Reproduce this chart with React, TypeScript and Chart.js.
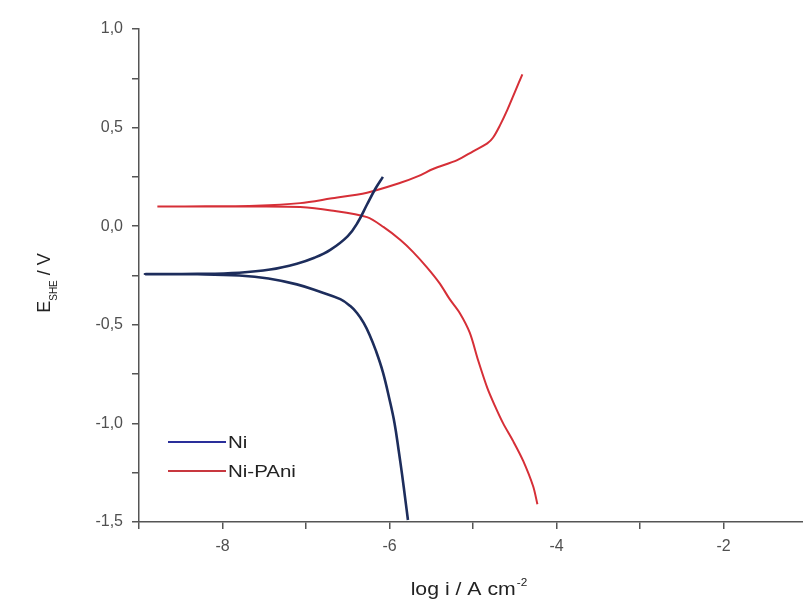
import React, { useEffect, useRef } from "react";
import { Chart, registerables } from "chart.js";

Chart.register(...registerables);

// Ni polarization curve (log i / A cm^-2, E / V vs SHE)
const NI_LOGI = [
  -5.78, -5.81, -5.85, -5.89, -5.94, -6.0, -6.08, -6.165, -6.24, -6.31, -6.39, -6.47, -6.59, -6.85, -7.11, -7.45, -7.8, -8.3, -8.93,
  -8.3, -7.8, -7.43, -7.11, -6.9, -6.71, -6.5, -6.38, -6.27, -6.17, -6.08,
];
const NI_E = [
  -1.49, -1.39, -1.26, -1.14, -1.0, -0.88, -0.74, -0.63, -0.55, -0.49, -0.44, -0.405, -0.37, -0.33, -0.295, -0.265, -0.25, -0.244, -0.243,
  -0.242, -0.236, -0.22, -0.19, -0.16, -0.12, -0.05, 0.02, 0.11, 0.19, 0.25,
];

// Ni-PAni polarization curve
const PANI_LOGI = [
  -4.23, -4.28, -4.4, -4.52, -4.64, -4.74, -4.83, -4.94, -5.04, -5.16, -5.28, -5.4, -5.55, -5.72, -5.87, -6.07, -6.27,
  -6.7, -7.07, -7.6, -8.2, -8.78,
  -8.2, -7.6, -7.07, -6.71, -6.27, -5.87, -5.65, -5.48, -5.19, -5.0, -4.83, -4.76, -4.68, -4.59, -4.5, -4.41,
];
const PANI_E = [
  -1.41, -1.32, -1.19, -1.09, -1.0, -0.91, -0.82, -0.68, -0.54, -0.44, -0.37, -0.29, -0.21, -0.13, -0.07, -0.005, 0.046,
  0.08, 0.097, 0.1, 0.1, 0.1,
  0.101, 0.104, 0.117, 0.14, 0.17, 0.22, 0.255, 0.29, 0.335, 0.38, 0.42, 0.45, 0.51, 0.59, 0.68, 0.77,
];

const SERIES_NAMES = ["Ni", "Ni-PAni"];
const X_TICKS = [-9, -8, -7, -6, -5, -4, -3, -2];
const Y_TICKS = [-1.5, -1.25, -1.0, -0.75, -0.5, -0.25, 0, 0.25, 0.5, 0.75, 1.0];
const X_TITLE = "log i / A cm";
const X_TITLE_SUP = "-2";
const Y_TITLE = ["E", "SHE", " / V"];

const NI_COLOR = "#1d2d5c";
const PANI_COLOR = "#d62f37";
const LEGEND_COLORS = ["#2a2f9a", "#c8383f"];
const FONT = "'Liberation Sans', Arial, sans-serif";

const textPlugin = {
  id: "customText",
  afterDraw(chart: any) {
    const ctx = chart.ctx as CanvasRenderingContext2D;
    const area = chart.chartArea;
    ctx.save();
    ctx.fillStyle = "#222";
    ctx.textBaseline = "alphabetic";
    ctx.textAlign = "left";

    // X title with superscript
    ctx.save();
    ctx.translate((area.left + area.right) / 2 - 2, 595);
    ctx.scale(1.18, 1);
    ctx.font = `18px ${FONT}`;
    const w1 = ctx.measureText(X_TITLE).width;
    ctx.font = `10px ${FONT}`;
    const w2 = ctx.measureText(X_TITLE_SUP).width;
    const start = -(w1 + w2 + 1) / 2;
    ctx.font = `18px ${FONT}`;
    ctx.fillText(X_TITLE, start, 0);
    ctx.font = `10px ${FONT}`;
    ctx.fillText(X_TITLE_SUP, start + w1 + 1, -9);
    ctx.restore();

    // Y title rotated with subscript
    ctx.save();
    ctx.translate(50, 283);
    ctx.rotate(-Math.PI / 2);
    ctx.font = `18px ${FONT}`;
    const a = ctx.measureText(Y_TITLE[0]).width;
    const c = ctx.measureText(Y_TITLE[2]).width;
    ctx.font = `10px ${FONT}`;
    const b = ctx.measureText(Y_TITLE[1]).width;
    const s = -(a + b + c) / 2;
    ctx.font = `18px ${FONT}`;
    ctx.fillText(Y_TITLE[0], s, 0);
    ctx.font = `10px ${FONT}`;
    ctx.fillText(Y_TITLE[1], s + a, 7);
    ctx.font = `18px ${FONT}`;
    ctx.fillText(Y_TITLE[2], s + a + b, 0);
    ctx.restore();

    // Legend
    const rows = [442, 471];
    SERIES_NAMES.forEach((name, i) => {
      const y = rows[i];
      ctx.strokeStyle = LEGEND_COLORS[i];
      ctx.lineWidth = 2;
      ctx.beginPath();
      ctx.moveTo(168, y);
      ctx.lineTo(226, y);
      ctx.stroke();
      ctx.save();
      ctx.translate(228, y + 6);
      ctx.scale(1.28, 1);
      ctx.font = `16px ${FONT}`;
      ctx.fillStyle = "#222";
      ctx.fillText(name, 0, 0);
      ctx.restore();
    });
    ctx.restore();
  },
};

export default function App() {
  const ref = useRef<HTMLCanvasElement | null>(null);

  useEffect(() => {
    if (!ref.current) return;
    const niData = NI_LOGI.map((x, i) => ({ x, y: NI_E[i] }));
    const paniData = PANI_LOGI.map((x, i) => ({ x, y: PANI_E[i] }));
    const chart = new Chart(ref.current, {
      type: "scatter",
      data: {
        datasets: [
          {
            label: SERIES_NAMES[0],
            data: niData,
            showLine: true,
            borderColor: NI_COLOR,
            borderWidth: 2.6,
            pointRadius: 0,
            tension: 0.4,
          },
          {
            label: SERIES_NAMES[1],
            data: paniData,
            showLine: true,
            borderColor: PANI_COLOR,
            borderWidth: 2,
            pointRadius: 0,
            tension: 0.3,
          },
        ],
      },
      options: {
        responsive: false,
        animation: false,
        layout: { padding: { top: 29, right: 0, left: 0, bottom: 0 } },
        plugins: { legend: { display: false }, tooltip: { enabled: false } },
        scales: {
          x: {
            type: "linear",
            min: -9,
            max: -1.05,
            afterBuildTicks: (s: any) => {
              s.ticks = X_TICKS.map((v) => ({ value: v }));
            },
            afterFit: (s: any) => {
              s.height = 81;
            },
            grid: { drawOnChartArea: false, drawTicks: true, tickLength: 7, color: "#555", lineWidth: 1.5 },
            border: { color: "#555", width: 1.5 },
            ticks: {
              callback: (v: any) => (Number(v) % 2 === 0 ? String(v) : ""),
              font: { size: 16, family: FONT },
              color: "#505050",
              padding: 8,
              maxRotation: 0,
              autoSkip: false,
            },
          },
          y: {
            type: "linear",
            min: -1.5,
            max: 1.0,
            afterBuildTicks: (s: any) => {
              s.ticks = Y_TICKS.map((v) => ({ value: v }));
            },
            afterFit: (s: any) => {
              s.width = 139;
            },
            grid: { drawOnChartArea: false, drawTicks: true, tickLength: 7, color: "#555", lineWidth: 1.5 },
            border: { color: "#555", width: 1.5 },
            ticks: {
              callback: (v: any) =>
                Math.abs((Number(v) * 2) % 1) < 1e-9 ? Number(v).toFixed(1).replace(".", ",") : "",
              font: { size: 16, family: FONT },
              color: "#505050",
              padding: 9,
              autoSkip: false,
            },
          },
        },
      },
      plugins: [textPlugin],
    });
    return () => chart.destroy();
  }, []);

  return (
    <div style={{ position: "fixed", left: 0, top: 0, width: 803, height: 603, background: "#fff" }}>
      <canvas ref={ref} width={803} height={603} style={{ display: "block" }} />
    </div>
  );
}
